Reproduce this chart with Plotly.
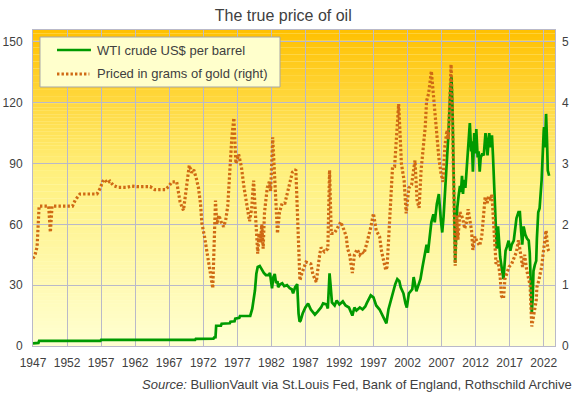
import plotly.graph_objects as go

# ---------------- data ----------------
wti_years = [1947.0, 1947.8, 1947.9, 1956.9, 1957.0, 1964.5, 1964.6, 1966.6, 1966.7, 1970.8,
             1970.9, 1973.5, 1973.6, 1973.8, 1973.9, 1974.6, 1974.7, 1975.9, 1976.0, 1976.6,
             1976.7, 1977.3, 1977.4, 1978.9, 1979.2, 1979.6, 1979.8, 1980.0, 1980.3, 1980.6,
             1980.9, 1981.2, 1981.6, 1981.8, 1982.1, 1982.3, 1982.5, 1982.7, 1982.9, 1983.0,
             1983.3, 1983.6, 1983.9, 1984.3, 1984.7, 1985.0, 1985.2, 1985.5, 1985.8, 1986.0,
             1986.15, 1986.3, 1986.6, 1987.0, 1987.4, 1987.8, 1988.4, 1988.8, 1989.3, 1989.6,
             1990.1, 1990.3, 1990.45, 1990.55, 1990.7, 1990.9, 1991.3, 1991.6, 1992.0, 1992.5,
             1992.9, 1993.4, 1993.9, 1994.2, 1994.5, 1995.0, 1995.4, 1995.8, 1996.0, 1996.3,
             1996.6, 1997.0, 1997.4, 1997.9, 1998.3, 1998.6, 1998.9, 1999.2, 1999.6, 1999.9,
             2000.2, 2000.5, 2000.8, 2001.0, 2001.2, 2001.4, 2001.7, 2001.9, 2002.2, 2002.5,
             2002.7, 2002.9, 2003.1, 2003.3, 2003.6, 2003.9, 2004.2, 2004.5, 2004.8, 2005.0,
             2005.3, 2005.5, 2005.8, 2006.0, 2006.3, 2006.6, 2006.9, 2007.1, 2007.3, 2007.5,
             2007.8, 2008.0, 2008.3, 2008.45, 2008.6, 2008.75, 2008.9, 2009.0, 2009.15, 2009.3,
             2009.5, 2009.7, 2009.85, 2010.0, 2010.15, 2010.3, 2010.5, 2010.75, 2011.0, 2011.15,
             2011.35, 2011.45, 2011.6, 2011.8, 2012.0, 2012.1, 2012.3, 2012.45, 2012.6, 2012.75,
             2013.0, 2013.2, 2013.45, 2013.6, 2013.75, 2013.9, 2014.0, 2014.2, 2014.4, 2014.55,
             2014.8, 2014.9, 2015.1, 2015.3, 2015.5, 2015.6, 2015.9, 2016.1, 2016.25, 2016.4,
             2016.6, 2016.85, 2017.1, 2017.3, 2017.6, 2017.8, 2018.0, 2018.3, 2018.5, 2018.7,
             2018.85, 2019.05, 2019.3, 2019.55, 2019.8, 2019.95, 2020.25, 2020.4, 2020.5, 2020.7,
             2020.9, 2021.0, 2021.2, 2021.4, 2021.7, 2022.0, 2022.05, 2022.2, 2022.35, 2022.5,
             2022.6, 2022.8]
wti_usd = [1.3, 1.5, 2.5, 2.5, 3.0, 3.0, 2.9, 2.9, 3.0, 3.0,
           3.5, 3.6, 4.2, 4.3, 10.0, 10.0, 11.0, 11.2, 12.0, 12.2,
           13.5, 13.9, 14.8, 14.9, 18.4, 27.5, 35.7, 39.0, 39.5, 37.5,
           36.0, 35.0, 35.0, 36.0, 28.4, 34.0, 35.5, 31.0, 32.0, 29.0,
           30.5, 31.0, 29.5, 30.0, 28.5, 28.0, 26.0, 29.0, 30.5, 16.0,
           12.0, 12.5, 16.0, 19.0, 21.0, 18.0, 15.5, 17.0, 19.0, 21.0,
           20.5, 18.5, 28.0, 35.8, 30.0, 21.5, 20.0, 22.5, 20.5, 22.0,
           20.0, 19.0, 15.0, 19.0, 17.5, 19.0, 18.0, 19.5, 21.0, 23.0,
           25.0, 24.0, 20.0, 18.0, 15.0, 13.0, 11.2, 18.0, 23.0, 27.0,
           30.5, 33.0, 32.0, 29.0, 27.0, 26.0, 21.0, 19.0, 26.0, 27.0,
           28.0, 34.0, 31.0, 27.0, 30.0, 33.0, 39.0, 44.0, 50.0, 46.0,
           54.0, 61.0, 65.0, 61.0, 70.0, 75.0, 62.0, 56.0, 64.0, 74.0,
           89.0, 104.0, 127.0, 133.0, 118.0, 85.0, 58.0, 41.0, 56.0, 68.0,
           74.0, 79.0, 76.0, 84.0, 75.0, 82.0, 78.0, 90.0, 99.0, 110.0,
           96.0, 101.0, 86.0, 105.0, 95.0, 107.0, 93.0, 96.0, 86.0, 93.0,
           95.0, 94.0, 105.0, 101.0, 94.0, 100.0, 105.0, 98.0, 104.0, 94.0,
           72.0, 56.0, 48.0, 59.0, 51.0, 44.0, 37.0, 33.0, 40.0, 47.0,
           49.0, 52.0, 47.0, 50.0, 52.0, 57.0, 63.0, 66.0, 66.0, 56.0,
           50.0, 59.0, 55.0, 53.0, 52.0, 46.0, 16.0, 25.0, 37.0, 40.0,
           42.0, 53.0, 66.0, 68.0, 82.0, 106.0, 108.0, 98.0, 114.5, 100.0,
           86.6, 84.0]

gold_years = [1947.0, 1947.3, 1947.6, 1947.9, 1949.3, 1949.55, 1949.8, 1952.8, 1953.2, 1953.9,
              1956.4, 1956.9, 1957.2, 1957.5, 1957.9, 1958.3, 1958.8, 1959.5, 1960.8, 1961.5,
              1962.3, 1964.2, 1964.9, 1966.4, 1966.9, 1967.4, 1968.1, 1968.3, 1968.6, 1968.8,
              1969.1, 1969.35, 1969.6, 1969.95, 1970.3, 1970.6, 1971.0, 1971.3, 1971.6, 1971.8,
              1972.2, 1972.5, 1972.8, 1973.1, 1973.4, 1973.8, 1974.0, 1974.3, 1974.6, 1975.0,
              1975.3, 1975.6, 1975.8, 1976.0, 1976.2, 1976.5, 1976.8, 1977.2, 1977.6, 1978.0,
              1978.4, 1978.8, 1979.1, 1979.4, 1979.6, 1979.8, 1980.0, 1980.2, 1980.4, 1980.6,
              1980.8, 1981.0, 1981.4, 1981.7, 1981.9, 1982.2, 1982.5, 1982.9, 1983.2, 1983.6,
              1984.0, 1984.4, 1984.8, 1985.1, 1985.6, 1985.9, 1986.2, 1986.5, 1987.1, 1987.8,
              1988.1, 1988.6, 1988.9, 1989.1, 1989.3, 1989.8, 1990.3, 1990.55, 1990.8, 1991.2,
              1991.5, 1991.8, 1992.2, 1992.7, 1993.0, 1993.2, 1993.5, 1993.9, 1994.2, 1994.6,
              1995.0, 1995.3, 1995.6, 1996.0, 1996.3, 1996.6, 1997.0, 1997.4, 1997.9, 1998.2,
              1998.8, 1999.0, 1999.2, 1999.4, 1999.6, 1999.8, 2000.1, 2000.3, 2000.5, 2000.7,
              2000.9, 2001.1, 2001.5, 2001.8, 2002.2, 2002.6, 2002.9, 2003.1, 2003.4, 2003.7,
              2004.0, 2004.3, 2004.6, 2004.8, 2005.1, 2005.5, 2005.8, 2006.0, 2006.3, 2006.6,
              2006.9, 2007.2, 2007.5, 2007.8, 2008.0, 2008.2, 2008.4, 2008.6, 2008.8, 2009.0,
              2009.2, 2009.4, 2009.7, 2010.1, 2010.4, 2010.7, 2010.9, 2011.2, 2011.4, 2011.6,
              2011.9, 2012.2, 2012.6, 2012.9, 2013.1, 2013.4, 2013.7, 2013.9, 2014.2, 2014.4,
              2014.55, 2014.8, 2015.0, 2015.3, 2015.6, 2015.8, 2016.1, 2016.3, 2016.6, 2016.9,
              2017.3, 2017.7, 2018.0, 2018.3, 2018.6, 2018.9, 2019.2, 2019.5, 2019.8, 2020.0,
              2020.25, 2020.6, 2020.9, 2021.0, 2021.3, 2021.5, 2021.7, 2021.9, 2022.2, 2022.35,
              2022.6, 2022.8]
oil_in_gold_grams = [1.44, 1.50, 1.63, 2.30, 2.30, 1.87, 2.30, 2.30, 2.40, 2.50,
                     2.50, 2.60, 2.70, 2.74, 2.68, 2.71, 2.64, 2.61, 2.61, 2.63,
                     2.62, 2.62, 2.57, 2.57, 2.62, 2.70, 2.70, 2.55, 2.37, 2.31,
                     2.23, 2.45, 2.65, 2.97, 2.85, 2.90, 2.75, 2.60, 2.34, 2.02,
                     1.79, 1.57, 1.41, 1.19, 0.95, 2.39, 2.00, 2.15, 2.05, 1.96,
                     2.07, 2.30, 2.70, 3.10, 3.43, 3.75, 3.00, 3.15, 2.95, 2.60,
                     2.30, 2.05, 2.25, 2.72, 2.30, 1.85, 1.52, 1.85, 1.70, 2.00,
                     1.60, 2.20, 2.60, 2.70, 2.55, 3.43, 2.70, 1.85, 2.20, 2.35,
                     2.35, 2.55, 2.75, 2.86, 2.90, 1.90, 1.08, 1.20, 1.38, 1.35,
                     1.18, 1.05, 1.40, 1.50, 1.62, 1.55, 1.60, 2.89, 1.85, 1.85,
                     1.90, 1.96, 2.04, 1.90, 1.80, 1.60, 1.50, 1.20, 1.50, 1.59,
                     1.50, 1.55, 1.52, 1.68, 1.80, 1.95, 2.18, 1.90, 1.80, 1.55,
                     1.25, 1.30, 1.70, 2.10, 2.55, 2.94, 2.95, 3.30, 3.75, 3.98,
                     3.50, 3.00, 2.72, 2.18, 2.60, 2.65, 2.90, 3.05, 2.40, 2.27,
                     2.90, 3.20, 3.60, 4.03, 4.15, 4.52, 4.10, 3.80, 3.50, 3.10,
                     2.85, 2.70, 3.30, 3.55, 3.40, 4.20, 4.63, 3.80, 2.50, 1.32,
                     2.15, 1.75, 2.20, 2.10, 1.93, 2.05, 2.25, 2.05, 1.90, 1.58,
                     1.80, 1.72, 1.65, 1.80, 2.05, 2.45, 2.35, 2.46, 2.40, 2.50,
                     2.20, 1.70, 1.35, 1.40, 1.15, 0.82, 0.78, 1.10, 1.20, 1.30,
                     1.35, 1.45, 1.55, 1.74, 1.55, 1.30, 1.50, 1.25, 1.10, 1.00,
                     0.32, 0.55, 0.75, 0.97, 1.08, 1.20, 1.30, 1.50, 1.75, 1.90,
                     1.60, 1.55]

tick_years = list(range(1947, 2023, 5))
left_ticks = [0, 30, 60, 90, 120, 150]
right_ticks = [0, 1, 2, 3, 4, 5]

x_range = [1947, 2023.66]
y_range = [0, 155.9]
y2_range = [0, 155.9 / 30]

title_text = "The true price of oil"
wti_name = "WTI crude US$ per barrel"
gold_name = "Priced in grams of gold (right)"
source_text = "<i>Source:</i> BullionVault via St.Louis Fed, Bank of England, Rothschild Archive"

# ---------------- figure ----------------
FONT = "Liberation Sans, Arial, sans-serif"
TXT = "#404040"
GRID = "#B9B9C9"
GREEN = "#009A00"
ORANGE = "#CF6A14"
DOTS = "2.4px,2.1px"

fig = go.Figure()

fig.add_trace(go.Scatter(
    x=wti_years, y=wti_usd, name=wti_name,
    mode="lines", line=dict(color=GREEN, width=2.7), yaxis="y"))

fig.add_trace(go.Scatter(
    x=gold_years, y=oil_in_gold_grams, name=gold_name,
    mode="lines", line=dict(color=ORANGE, width=3.2, dash=DOTS), yaxis="y2"))

# vertical background gradient (pale yellow at bottom -> orange at top)
stops = [(0.0, (255, 255, 210)), (0.55, (255, 240, 125)), (1.0, (255, 192, 0))]
n = 90
shapes = []
for i in range(n):
    t = (i + 0.5) / n
    for j in range(len(stops) - 1):
        if stops[j][0] <= t <= stops[j + 1][0]:
            a, ca = stops[j]
            b, cb = stops[j + 1]
            f = (t - a) / (b - a)
            c = tuple(round(ca[k] + (cb[k] - ca[k]) * f) for k in range(3))
            break
    y0 = y_range[0] + (y_range[1] - y_range[0]) * i / n
    y1 = y_range[0] + (y_range[1] - y_range[0]) * (i + 1) / n
    shapes.append(dict(type="rect", xref="x", yref="y", x0=x_range[0], x1=x_range[1],
                       y0=y0, y1=y1 + 0.05, layer="below", line=dict(width=0),
                       fillcolor="rgb(%d,%d,%d)" % c))

# hand-built legend box (paper coordinates)
shapes.append(dict(type="rect", xref="paper", yref="paper", x0=0.0134, x1=0.4732,
                   y0=0.8196, y1=0.9778, layer="above", fillcolor="#FFFFCC",
                   line=dict(color="#A6A6A6", width=1)))
shapes.append(dict(type="line", xref="paper", yref="paper", x0=0.046, x1=0.111,
                   y0=0.9367, y1=0.9367, layer="above", line=dict(color=GREEN, width=2.7)))
shapes.append(dict(type="line", xref="paper", yref="paper", x0=0.046, x1=0.108,
                   y0=0.8608, y1=0.8608, layer="above",
                   line=dict(color=ORANGE, width=3.2, dash=DOTS)))

annotations = [
    dict(text=wti_name, xref="paper", yref="paper", x=0.1188, y=0.9367,
         xanchor="left", yanchor="middle", showarrow=False,
         font=dict(size=13, color=TXT, family=FONT)),
    dict(text=gold_name, xref="paper", yref="paper", x=0.1188, y=0.8608,
         xanchor="left", yanchor="middle", showarrow=False,
         font=dict(size=13, color=TXT, family=FONT)),
    dict(text=source_text, xref="paper", yref="paper",
         x=1.036, y=-0.123, xanchor="right", yanchor="middle",
         showarrow=False, font=dict(size=13, color=TXT, family=FONT)),
]

fig.update_layout(
    width=578, height=397,
    margin=dict(l=33, r=23, t=30, b=51, autoexpand=False),
    paper_bgcolor="white",
    plot_bgcolor="rgb(255,255,210)",
    font=dict(family=FONT, size=12, color=TXT),
    title=dict(text=title_text, x=0.49, xanchor="center", y=0.962, yanchor="middle",
               yref="container", font=dict(size=16, color=TXT, family=FONT)),
    shapes=shapes,
    annotations=annotations,
    showlegend=False,
    hovermode=False,
    xaxis=dict(range=x_range, tickmode="array", tickvals=tick_years,
               ticktext=[str(v) for v in tick_years], automargin=False,
               showgrid=True, gridcolor=GRID, gridwidth=1,
               showline=True, linecolor=GRID, mirror=True, linewidth=1,
               ticks="", zeroline=False, ticklabelstandoff=6,
               tickfont=dict(size=12, color=TXT)),
    yaxis=dict(range=y_range, tickmode="array", tickvals=left_ticks, automargin=False,
               showgrid=True, gridcolor=GRID, gridwidth=1,
               showline=True, linecolor=GRID, mirror=True, linewidth=1,
               ticks="", zeroline=False, ticklabelstandoff=7,
               tickfont=dict(size=12, color=TXT)),
    yaxis2=dict(range=y2_range, tickmode="array", tickvals=right_ticks, automargin=False,
                overlaying="y", side="right", showgrid=False, zeroline=False,
                showline=False, ticks="", ticklabelstandoff=6,
                tickfont=dict(size=12, color=TXT)),
)

fig.write_html("out.html", config={"displayModeBar": False, "staticPlot": True},
               post_script="document.body.style.margin='0';document.body.style.overflow='hidden';")
